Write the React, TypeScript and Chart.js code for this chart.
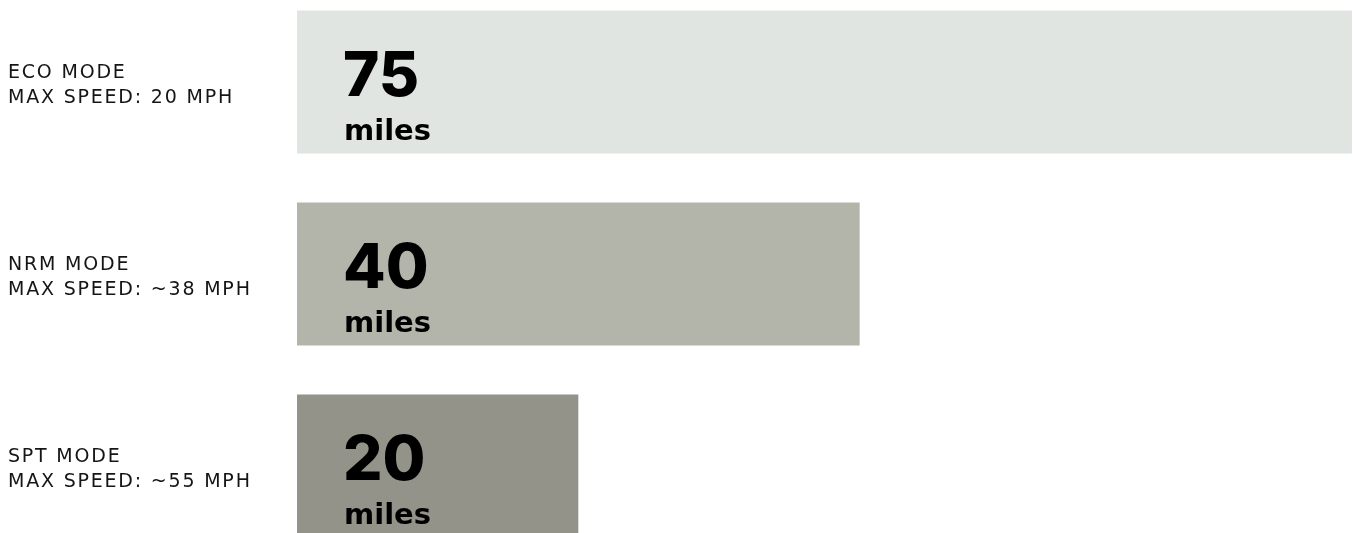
import React, { useEffect, useRef } from "react";
import { Chart, registerables } from "chart.js";

Chart.register(...registerables);

const modes = ["ECO MODE", "NRM MODE", "SPT MODE"];
const speeds = ["MAX SPEED: 20 MPH", "MAX SPEED: ~38 MPH", "MAX SPEED: ~55 MPH"];
const ranges = [75, 40, 20];
const unitLabel = "miles";
const barColors = ["#E1E5E2", "#B3B5AB", "#93938A"];

const NUM_FONT = "Inter, 'DejaVu Sans', sans-serif";
const LABEL_FONT = "'DejaVu Sans', sans-serif";

const spacing = {
  id: "spacing",
  beforeDraw(chart: any) {
    (chart.ctx as any).letterSpacing = "1.8px";
  },
};

const valueLabels = {
  id: "valueLabels",
  afterDatasetsDraw(chart: any) {
    const ctx = chart.ctx;
    const meta = chart.getDatasetMeta(0);
    ctx.save();
    (ctx as any).letterSpacing = "0px";
    ctx.fillStyle = "#000000";
    ctx.textAlign = "left";
    ctx.textBaseline = "alphabetic";
    meta.data.forEach((bar: any, i: number) => {
      const left = bar.base;
      const cy = bar.y;
      ctx.font = `800 62px ${NUM_FONT}`;
      ctx.fillText(String(ranges[i]), left + 46, cy + 14);
      ctx.font = `bold 29px ${LABEL_FONT}`;
      ctx.fillText(unitLabel, left + 47, cy + 58);
    });
    ctx.restore();
  },
};

export default function App() {
  const ref = useRef<HTMLCanvasElement>(null);
  useEffect(() => {
    if (!ref.current) return;
    const chart = new Chart(ref.current, {
      type: "bar",
      data: {
        labels: modes.map((m, i) => [m, speeds[i]]),
        datasets: [
          {
            data: ranges,
            backgroundColor: barColors,
            borderWidth: 0,
            barPercentage: 0.745,
            categoryPercentage: 1,
          },
        ],
      },
      options: {
        indexAxis: "y",
        animation: false,
        responsive: false,
        maintainAspectRatio: false,
        layout: { padding: { left: 8, right: 1, top: 0, bottom: 0 } },
        plugins: {
          legend: { display: false },
          tooltip: { enabled: false },
        },
        scales: {
          x: {
            min: 0,
            max: 75,
            display: false,
          },
          y: {
            grid: { display: false },
            border: { display: false },
            afterFit(scale: any) {
              scale.width = 289;
            },
            ticks: {
              crossAlign: "far",
              color: "#151515",
              padding: 0,
              labelOffset: 4,
              font: { family: LABEL_FONT, size: 19, weight: "normal", lineHeight: "25px" },
            },
          },
        },
      },
      plugins: [spacing, valueLabels],
    });
    return () => chart.destroy();
  }, []);
  return (
    <div style={{ position: "fixed", left: 0, top: 0, width: 1353, height: 533, overflow: "hidden", background: "#fff" }}>
      <canvas
        ref={ref}
        width={1353}
        height={626}
        style={{ position: "absolute", left: 0, top: -39, width: 1353, height: 626 }}
      />
    </div>
  );
}
